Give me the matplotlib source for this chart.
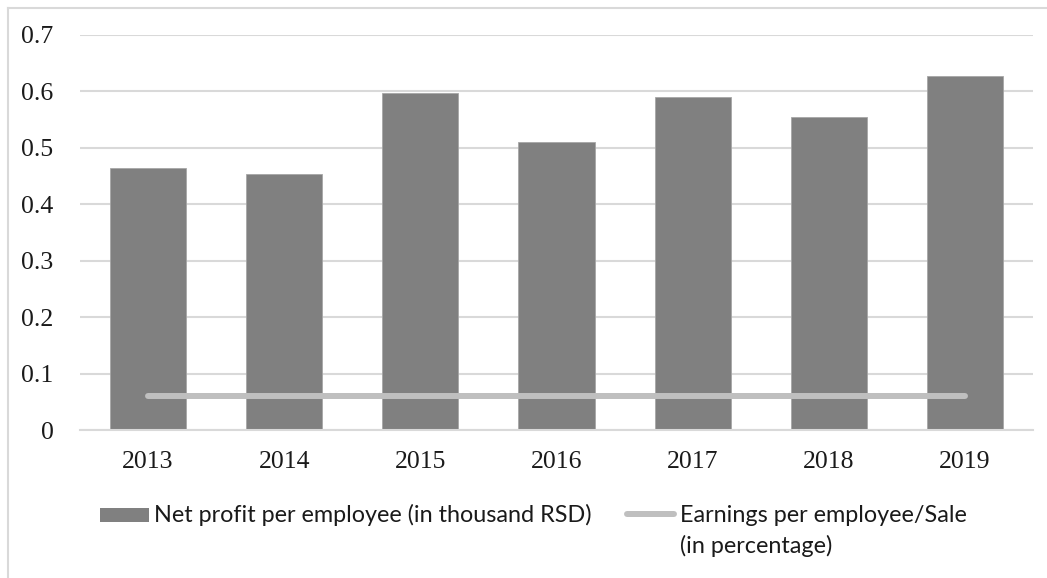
import matplotlib
matplotlib.use("Agg")
import matplotlib.pyplot as plt
from matplotlib.patches import Rectangle
from matplotlib.lines import Line2D

# Data
years = ["2013", "2014", "2015", "2016", "2017", "2018", "2019"]
net_profit = [0.464, 0.454, 0.597, 0.510, 0.590, 0.555, 0.627]
earnings_ratio = [0.06, 0.06, 0.06, 0.06, 0.06, 0.06, 0.06]
y_ticks = [0, 0.1, 0.2, 0.3, 0.4, 0.5, 0.6, 0.7]
y_tick_labels = ["0", "0.1", "0.2", "0.3", "0.4", "0.5", "0.6", "0.7"]
bar_label = "Net profit per employee (in thousand RSD)"
line_label = "Earnings per employee/Sale\n(in percentage)"

BAR_COLOR = "#808080"
LINE_COLOR = "#BFBFBF"
GRID_COLOR = "#D9D9D9"
TEXT_COLOR = "#1a1a1a"

W, H = 1047, 578
fig = plt.figure(figsize=(W / 100, H / 100), dpi=100)
fig.patch.set_facecolor("white")

def fx(px):
    return px / W

def fy(py):
    return 1 - py / H

ax = fig.add_axes([fx(80), fy(430.2), fx(1033) - fx(80), fy(34.7) - fy(430.2)])
x = list(range(len(years)))

ax.bar(x, net_profit, width=0.56, color=BAR_COLOR, edgecolor="#A6A6A6",
       linewidth=0.6, zorder=2)
ax.plot(x, earnings_ratio, color=LINE_COLOR, linewidth=4.3,
        solid_capstyle="round", zorder=3)

ax.set_xlim(-0.5, len(years) - 0.5)
ax.set_ylim(0, 0.7)
ax.set_yticks(y_ticks)
ax.set_yticklabels(y_tick_labels)
ax.set_xticks(x)
ax.set_xticklabels(years)

ax.yaxis.grid(True, color=GRID_COLOR, linewidth=1.5, zorder=0)
ax.set_axisbelow(True)
for side in ("top", "right", "left"):
    ax.spines[side].set_visible(False)
ax.spines["bottom"].set_color(GRID_COLOR)
ax.spines["bottom"].set_linewidth(1.5)
ax.tick_params(axis="both", length=0, colors=TEXT_COLOR)
ax.tick_params(axis="y", pad=19)
ax.tick_params(axis="x", pad=15)
for lbl in ax.get_xticklabels() + ax.get_yticklabels():
    lbl.set_fontfamily("Liberation Serif")
    lbl.set_fontsize(18.5)

# Chart area border (top and left edges)
fig.add_artist(Line2D([fx(8), fx(W)], [fy(7.5), fy(7.5)], color=GRID_COLOR,
                      linewidth=1.5))
fig.add_artist(Line2D([fx(8), fx(8)], [fy(7.5), fy(H)], color=GRID_COLOR,
                      linewidth=1.5))

# Legend
legend_font = dict(family="Lato", size=16.8, color=TEXT_COLOR)
fig.add_artist(Rectangle((fx(100), fy(521.7)), fx(149) - fx(100),
                         fy(508) - fy(521.7), facecolor=BAR_COLOR,
                         edgecolor="none"))
fig.text(fx(154), fy(521.7), bar_label, va="baseline", ha="left", **legend_font)
fig.add_artist(Line2D([fx(627), fx(674)], [fy(514), fy(514)], color=LINE_COLOR,
                      linewidth=4.3, solid_capstyle="round"))
for i, line in enumerate(line_label.split("\n")):
    fig.text(fx(680), fy(521.7 + 31 * i), line, va="baseline", ha="left",
             **legend_font)

fig.savefig("out.png", dpi=100, facecolor="white")
